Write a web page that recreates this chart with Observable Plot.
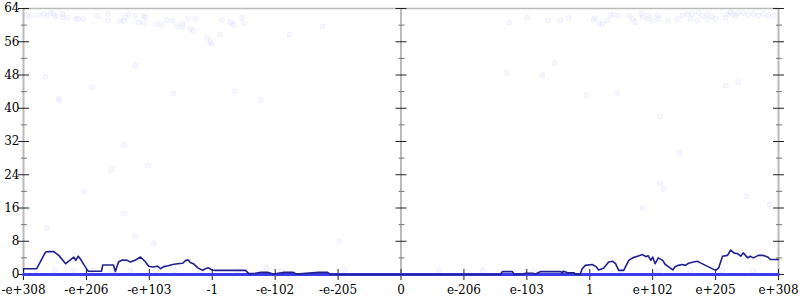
<!DOCTYPE html>
<html><head><meta charset="utf-8">
<script src="https://cdn.jsdelivr.net/npm/d3@7"></script>
<script src="https://cdn.jsdelivr.net/npm/@observablehq/plot@0.6"></script>
<style>body{margin:0;background:#fff}</style>
</head><body><div id="chart"></div>
<script>
// x positions are tick-index units: -6 = -e+308 ... 0 = 0 ... 6 = e+308
const xTickPos = [-6,-5,-4,-3,-2,-1,0,1,2,3,4,5,6];
const xTickLabels = ["-e+308","-e+206","-e+103","-1","-e-102","-e-205","0","e-206","e-103","1","e+102","e+205","e+308"];
const yMajor = [0,8,16,24,32,40,48,56,64];
const yMinor = [4,12,20,28,36,44,52,60];
const axisAt = [-6,0,6];

// dark running line
const lineX = [-6.0,-5.79,-5.65,-5.60,-5.52,-5.44,-5.33,-5.28,-5.25,-5.20,-5.17,-5.13,-5.09,-5.05,-5.0,-4.97,-4.76,-4.74,-4.57,-4.54,-4.49,-4.43,-4.35,-4.30,-4.22,-4.14,-4.06,-4.01,-3.95,-3.87,-3.82,-3.77,-3.70,-3.63,-3.55,-3.47,-3.42,-3.38,-3.35,-3.30,-3.23,-3.15,-3.11,-3.06,-3.0,-2.95,-2.47,-2.42,-2.31,-2.23,-2.11,-2.03,-1.87,-1.71,-1.66,-1.31,-1.17,-1.12,0,1.58,1.61,1.77,1.80,1.93,1.98,2.09,2.14,2.22,2.53,2.57,2.58,2.65,2.75,2.77,2.85,2.88,2.93,3.04,3.10,3.14,3.22,3.30,3.36,3.41,3.46,3.54,3.62,3.68,3.76,3.84,3.89,3.93,3.97,4.00,4.04,4.09,4.16,4.20,4.25,4.32,4.36,4.41,4.47,4.52,4.57,4.65,4.71,4.76,4.84,4.92,5.00,5.05,5.11,5.19,5.24,5.29,5.35,5.40,5.44,5.51,5.55,5.60,5.68,5.76,5.83,5.87,6.0];
const lineY = [1.4,1.4,5.4,5.5,5.5,4.6,2.6,3.2,3.6,4.2,3.4,4.4,3.6,2.6,1.4,0.8,0.8,2.3,2.3,0.7,3.0,3.5,3.4,3.0,3.5,4.2,3.0,2.0,1.8,2.0,1.4,1.9,2.1,2.4,2.6,2.7,3.4,3.5,2.9,2.6,1.6,1.0,1.4,1.6,1.1,1.0,1.0,0.2,0.3,0.55,0.5,0.1,0.5,0.5,0.1,0.5,0.5,0,0,0,0.7,0.7,0,0.1,0.3,0.3,0.1,0.7,0.7,0.4,0.8,0.4,0.4,0.1,0.1,1.4,2.2,2.4,1.9,1.1,1.5,3.0,3.2,2.6,1.0,1.0,3.4,4.0,4.4,4.8,4.3,4.5,3.4,4.2,2.6,4.0,3.4,2.4,1.9,1.1,1.9,2.2,2.4,2.2,2.7,3.0,3.2,2.8,2.2,1.6,1.0,1.6,4.4,4.6,5.9,5.2,5.0,4.4,5.2,4.0,4.4,4.0,4.6,4.6,4.2,3.6,3.6];

// bright base line
const baseX = [-6, 6];
const baseY = [0, 0];

// faint sample points
const dotX = [-5.94,-5.89,-5.76,-5.68,-5.62,-5.57,-5.52,-5.49,-5.38,-5.38,-5.30,-5.17,-5.13,-5.05,-4.82,-4.66,-4.65,-4.46,-4.41,-4.38,-4.33,-4.22,-4.17,-4.09,-4.06,-4.09,-3.90,-3.82,-3.72,-3.63,-3.55,-3.47,-3.47,-3.39,-3.35,-3.30,-3.27,
  -4.22,-5.65,-4.90,-5.44,-3.62,
  -2.85,-2.71,-2.66,-2.53,-2.49,-2.88,-3.08,-3.03,-3.01,-1.77,-1.25,-2.65,-2.23,
  1.72,2.01,2.34,2.53,2.66,3.06,3.09,3.15,2.44,1.68,2.25,2.95,
  3.20,3.28,3.33,3.38,3.46,3.62,3.68,3.72,3.81,3.84,3.92,3.93,4.00,4.08,4.09,4.24,4.39,4.47,4.55,4.60,4.63,4.71,4.73,4.79,4.87,4.87,4.95,5.00,5.16,5.19,5.24,5.28,5.32,5.36,5.44,5.52,5.60,5.68,5.76,5.84,5.92,5.16,5.36,3.44,
  -5.43,-4.41,-4.60,-4.03,-5.05,-4.41,-5.63,
  4.12,4.43,4.12,4.17,5.49,5.86,3.84,
  -4.22,-3.93,-0.98,-2.14,
  -5.8,-5.5,-5.2,-4.9,-4.6,-4.3,-3.9,-3.6,-3.2,-2.6,-1.9,-0.9,0.6,1.3,2.1,2.9,3.5,4.1,4.6,5.1,5.6];
const dotY = [62.3,62.3,62.5,62.7,62.3,62.9,62.7,62.1,62.7,61.9,61.7,61.5,61.5,61.5,62.2,61.1,62.7,61.0,61.0,61.9,62.6,62.2,60.7,62.1,61.9,60.5,60.2,60.2,61.3,61.1,59.7,59.5,60.3,61.5,59.1,58.7,61.5,
  50.3,47.6,45.1,42.3,43.6,
  61.3,60.7,60.2,61.8,60.5,57.7,56.9,55.9,55.5,57.7,59.7,44.1,42.0,
  60.6,61.9,61.1,61.1,61.7,61.3,61.7,60.5,50.9,48.6,48.0,43.1,
  60.3,61.1,62.3,62.6,62.3,62.3,61.5,60.7,62.7,61.9,61.5,62.3,61.1,62.3,61.5,61.0,61.5,62.3,62.7,61.5,62.7,61.1,62.9,62.3,61.3,62.6,62.1,61.5,61.8,62.6,63.1,62.7,62.3,62.9,62.9,62.6,62.7,62.3,62.7,62.3,62.3,45.5,46.3,43.6,
  41.9,31.2,25.2,26.2,20.0,14.7,11.2,
  38.0,29.3,22.0,20.6,18.8,16.8,16.0,
  9.1,7.6,8.0,1.7,
  0.9,1.0,0.9,1.0,0.8,1.0,0.9,1.0,0.9,1.0,0.9,1.0,0.9,1.0,0.9,1.0,0.9,1.0,0.9,1.0,0.9];

const line = lineX.map((x, i) => ({x, y: lineY[i]}));
const base = baseX.map((x, i) => ({x, y: baseY[i]}));
const dots = dotX.map((x, i) => ({x, y: dotY[i]}));
const majorTicks = axisAt.flatMap(a => yMajor.map(y => ({a, y})));
const minorTicks = axisAt.flatMap(a => yMinor.map(y => ({a, y})));
const xTicks = xTickPos.map((p, i) => ({p, label: xTickLabels[i]}));

const font = "DejaVu Serif";
const chart = Plot.plot({
  width: 800, height: 300,
  marginLeft: 23, marginRight: 22, marginTop: 8, marginBottom: 26,
  x: {domain: [-6, 6], label: null},
  y: {domain: [0, 64], label: null},
  style: {fontFamily: font, fontSize: "12px", color: "#000", background: "#fff"},
  marks: [
    Plot.ruleX(axisAt, {stroke: "#bbbbbb", strokeWidth: 2}),
    Plot.ruleY([64], {stroke: "#bbbbbb", strokeWidth: 1.5}),
    Plot.ruleY([0], {stroke: "#bbbbbb", strokeWidth: 1.5}),
    Plot.ruleY(minorTicks, {y: "y", x1: "a", x2: "a", insetLeft: -2, insetRight: -4, stroke: "#777", strokeWidth: 1}),
    Plot.ruleY(majorTicks, {y: "y", x1: "a", x2: "a", insetLeft: -5, insetRight: -6, stroke: "#222", strokeWidth: 1}),
    Plot.ruleX(xTicks, {x: "p", y1: 0, y2: 0, insetTop: 6, insetBottom: 5, stroke: "#222", strokeWidth: 1}),
    Plot.dot(dots, {x: "x", y: "y", r: 2.6, fill: "#dadaff", fillOpacity: 0.22, stroke: "#c2c2f4", strokeOpacity: 0.2, strokeWidth: 0.8}),
    Plot.line(base, {x: "x", y: "y", stroke: "#3c3cee", strokeWidth: 3}),
    Plot.line(line, {x: "x", y: "y", stroke: "#202090", strokeWidth: 1.6, curve: "linear"}),
    Plot.axisY(yMajor, {anchor: "left", label: null, tickSize: 0, tickPadding: 4, fontSize: 12, fontFamily: font}),
    Plot.axisX(xTickPos, {anchor: "bottom", label: null, tickSize: 0, tickPadding: 11, fontSize: 12, fontFamily: font, tickFormat: (d) => xTickLabels[xTickPos.indexOf(d)]})
  ]
});
document.getElementById("chart").appendChild(chart);
</script>
</body></html>
